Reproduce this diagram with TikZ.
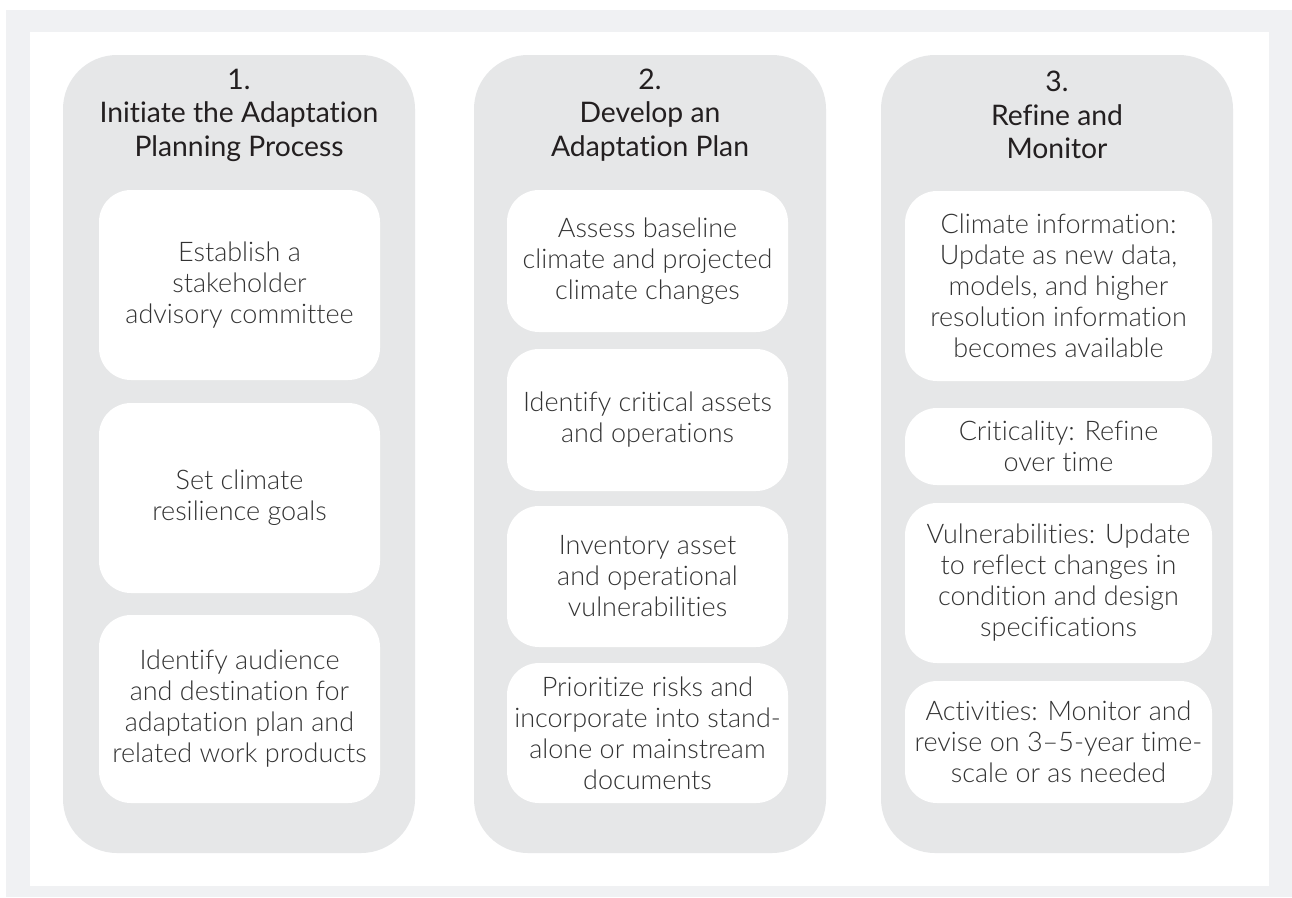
\documentclass[tikz,border=0pt]{standalone}
\usepackage{fontspec}
\setmainfont{Lato}[Ligatures=NoCommon]
\newfontfamily\lightfont{Lato Light}[Ligatures=NoCommon]
\definecolor{framegray}{HTML}{F0F1F3}
\definecolor{colgray}{HTML}{E6E7E8}
\definecolor{txtgray}{HTML}{333333}
\definecolor{headtxt}{HTML}{231F20}
\begin{document}
\begin{tikzpicture}[x=1pt,y=-1pt,
  colbox/.style={fill=colgray, rounded corners=54pt, draw=none},
  innerbox/.style={fill=white, rounded corners=32pt, draw=none, align=center, inner sep=0pt,
    text=txtgray, font=\lightfont\fontsize{27}{31}\selectfont},
  headtext/.style={align=center, text=headtxt, inner sep=0pt, font=\fontsize{28.3}{33.5}\selectfont}]
\useasboundingbox (0,0) rectangle (1292,897);
\fill[framegray] (6,10) rectangle (1292,897);
\fill[white] (30,32) rectangle (1269,886);
% columns
\fill[colbox] (63,55) rectangle (415,853);
\fill[colbox] (474,55) rectangle (826,853);
\fill[colbox] (881,55) rectangle (1233,853);
% headers
\node[headtext] (h1) at (239,115) {1.\\Initiate the Adaptation\\Planning Process};
\node[headtext] (h2) at (650,115) {2.\\Develop an\\Adaptation Plan};
\node[headtext] (h3) at (1057,115) {3.\\Refine and\\Monitor};
% column 1
\node[innerbox, minimum width=281pt, minimum height=190pt] (a1) at (239.5,285) {Establish a\\stakeholder\\advisory committee};
\node[innerbox, minimum width=281pt, minimum height=190pt] (a2) at (239.5,498) {Set climate\\resilience goals};
\node[innerbox, minimum width=281pt, minimum height=188pt] (a3) at (239.5,709) {Identify audience\\and destination for\\adaptation plan and\\related work products};
% column 2
\node[innerbox, minimum width=281pt, minimum height=142pt] (b1) at (647.5,261) {Assess baseline\\climate and projected\\climate changes};
\node[innerbox, minimum width=281pt, minimum height=142pt] (b2) at (647.5,420) {Identify critical assets\\and operations};
\node[innerbox, minimum width=281pt, minimum height=141pt] (b3) at (647.5,576.5) {Inventory asset\\and operational\\vulnerabilities};
\node[innerbox, minimum width=281pt, minimum height=140pt] (b4) at (647.5,733) {Prioritize risks and\\incorporate into stand-\\alone or mainstream\\documents};
% column 3
\node[innerbox, minimum width=307pt, minimum height=190pt] (c1) at (1058.5,286) {Climate information:\\Update as new data,\\models, and higher\\resolution information\\becomes available};
\node[innerbox, minimum width=307pt, minimum height=77pt] (c2) at (1058.5,446.5) {Criticality: Refine\\over time};
\node[innerbox, minimum width=307pt, minimum height=160pt] (c3) at (1058.5,583) {Vulnerabilities: Update\\to reflect changes in\\condition and design\\specifications};
\node[innerbox, minimum width=307pt, minimum height=122pt] (c4) at (1058.5,742) {Activities: Monitor and\\revise on 3–5-year time-\\scale or as needed};
\end{tikzpicture}
\end{document}
